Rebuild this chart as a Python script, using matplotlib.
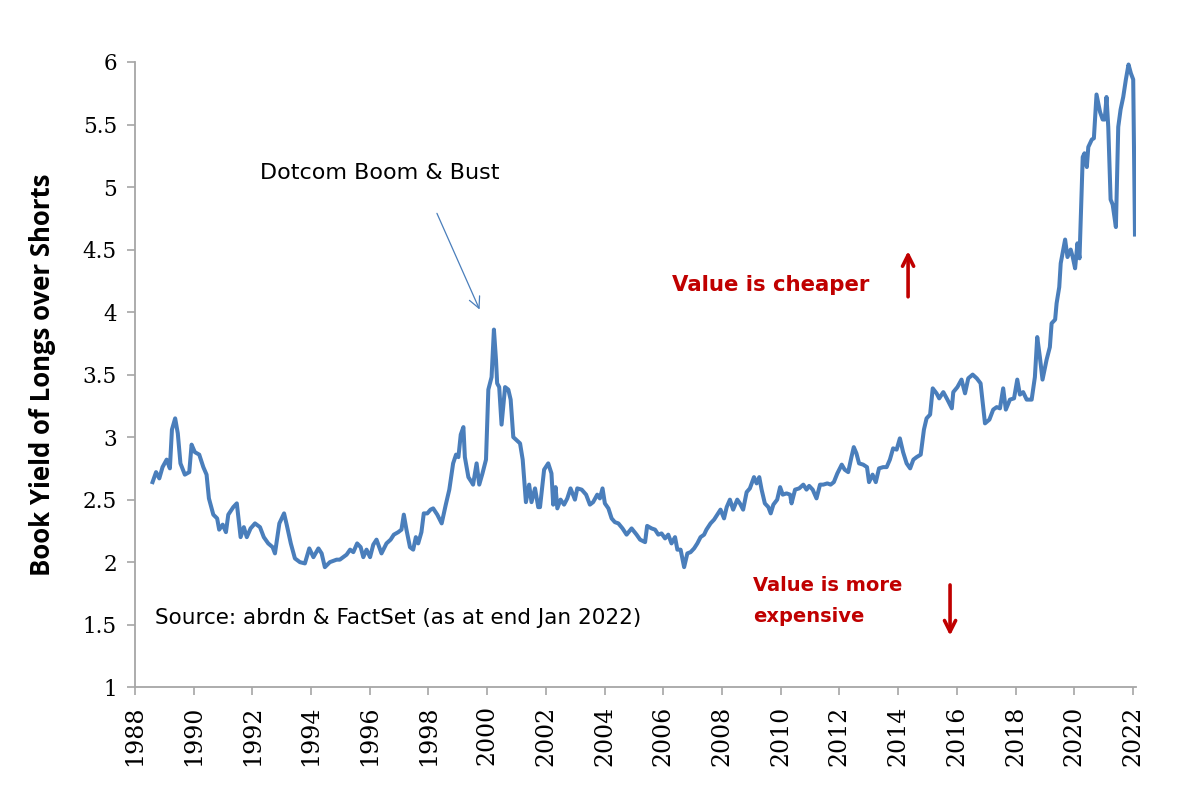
import numpy as np
import matplotlib
matplotlib.use("Agg")
import matplotlib.pyplot as plt

# decimal year and book yield ratio
years = [1988.60, 1988.72, 1988.83, 1988.94, 1989.08, 1989.19, 1989.26, 1989.37, 1989.46, 1989.55,
         1989.70, 1989.85, 1989.93, 1990.04, 1990.19, 1990.33, 1990.44, 1990.52, 1990.67, 1990.80,
         1990.87, 1990.99, 1991.10, 1991.18, 1991.35, 1991.47, 1991.60, 1991.71, 1991.81, 1991.94,
         1992.09, 1992.26, 1992.39, 1992.54, 1992.69, 1992.77, 1992.92, 1993.08, 1993.17, 1993.31,
         1993.45, 1993.62, 1993.79, 1993.94, 1994.08, 1994.25, 1994.36, 1994.47, 1994.64, 1994.87,
         1994.98, 1995.21, 1995.33, 1995.44, 1995.57, 1995.69, 1995.78, 1995.89, 1996.01, 1996.12,
         1996.23, 1996.40, 1996.57, 1996.71, 1996.82, 1996.97, 1997.08, 1997.16, 1997.25, 1997.37,
         1997.48, 1997.57, 1997.65, 1997.76, 1997.84, 1997.96, 1998.07, 1998.16, 1998.30, 1998.45,
         1998.59, 1998.71, 1998.84, 1998.94, 1999.02, 1999.10, 1999.19, 1999.24, 1999.36, 1999.47,
         1999.52, 1999.64, 1999.73, 1999.84, 1999.96, 2000.04, 2000.15, 2000.23, 2000.30, 2000.34,
         2000.41, 2000.49, 2000.61, 2000.72, 2000.80, 2000.89, 2000.98, 2001.12, 2001.21, 2001.32,
         2001.43, 2001.51, 2001.63, 2001.74, 2001.80, 2001.94, 2002.08, 2002.19, 2002.25, 2002.33,
         2002.39, 2002.50, 2002.62, 2002.73, 2002.84, 2002.99, 2003.07, 2003.22, 2003.37, 2003.50,
         2003.61, 2003.75, 2003.84, 2003.93, 2004.01, 2004.13, 2004.24, 2004.35, 2004.47, 2004.61,
         2004.75, 2004.92, 2005.09, 2005.21, 2005.38, 2005.45, 2005.60, 2005.72, 2005.83, 2005.94,
         2006.06, 2006.17, 2006.28, 2006.40, 2006.48, 2006.59, 2006.71, 2006.82, 2006.93, 2007.05,
         2007.16, 2007.27, 2007.39, 2007.47, 2007.61, 2007.73, 2007.84, 2007.95, 2008.07, 2008.16,
         2008.27, 2008.38, 2008.52, 2008.61, 2008.72, 2008.84, 2008.95, 2009.09, 2009.18, 2009.27,
         2009.35, 2009.46, 2009.58, 2009.66, 2009.75, 2009.88, 2009.98, 2010.07, 2010.20, 2010.32,
         2010.37, 2010.49, 2010.63, 2010.77, 2010.88, 2010.97, 2011.09, 2011.22, 2011.34, 2011.45,
         2011.59, 2011.70, 2011.81, 2011.93, 2012.08, 2012.18, 2012.30, 2012.41, 2012.49, 2012.58,
         2012.67, 2012.81, 2012.94, 2013.01, 2013.13, 2013.24, 2013.35, 2013.49, 2013.61, 2013.72,
         2013.83, 2013.95, 2014.06, 2014.17, 2014.29, 2014.41, 2014.52, 2014.63, 2014.77, 2014.88,
         2014.97, 2015.09, 2015.18, 2015.31, 2015.40, 2015.54, 2015.68, 2015.83, 2015.88, 2016.02,
         2016.16, 2016.28, 2016.39, 2016.54, 2016.68, 2016.81, 2016.96, 2017.11, 2017.24, 2017.36,
         2017.47, 2017.58, 2017.67, 2017.81, 2017.95, 2018.06, 2018.15, 2018.26, 2018.38, 2018.55,
         2018.66, 2018.74, 2018.83, 2018.92, 2019.06, 2019.17, 2019.23, 2019.35, 2019.40, 2019.49,
         2019.54, 2019.69, 2019.77, 2019.88, 2019.95, 2020.03, 2020.11, 2020.18, 2020.29, 2020.35,
         2020.43, 2020.48, 2020.60, 2020.67, 2020.76, 2020.88, 2020.97, 2021.04, 2021.10, 2021.16,
         2021.24, 2021.31, 2021.42, 2021.50, 2021.58, 2021.67, 2021.76, 2021.85, 2021.93, 2022.01,
         2022.07]
ratio = [2.64, 2.72, 2.67, 2.76, 2.82, 2.75, 3.06, 3.15, 3.03, 2.79,
         2.70, 2.72, 2.94, 2.88, 2.86, 2.76, 2.70, 2.51, 2.38, 2.35,
         2.26, 2.30, 2.24, 2.38, 2.44, 2.47, 2.20, 2.28, 2.20, 2.27,
         2.31, 2.28, 2.20, 2.15, 2.12, 2.07, 2.31, 2.39, 2.30, 2.15,
         2.03, 2.00, 1.99, 2.11, 2.04, 2.11, 2.07, 1.96, 2.00, 2.02,
         2.02, 2.06, 2.10, 2.08, 2.15, 2.12, 2.04, 2.10, 2.04, 2.14,
         2.18, 2.07, 2.15, 2.18, 2.22, 2.24, 2.26, 2.38, 2.26, 2.12,
         2.10, 2.20, 2.15, 2.24, 2.39, 2.39, 2.42, 2.43, 2.38, 2.31,
         2.46, 2.58, 2.79, 2.86, 2.84, 3.02, 3.08, 2.84, 2.68, 2.64,
         2.62, 2.79, 2.62, 2.71, 2.82, 3.38, 3.48, 3.86, 3.62, 3.43,
         3.40, 3.10, 3.40, 3.38, 3.30, 3.00, 2.98, 2.95, 2.82, 2.48,
         2.62, 2.48, 2.59, 2.44, 2.44, 2.74, 2.79, 2.71, 2.46, 2.60,
         2.43, 2.50, 2.46, 2.51, 2.59, 2.50, 2.59, 2.58, 2.54, 2.46,
         2.48, 2.54, 2.51, 2.59, 2.47, 2.43, 2.35, 2.32, 2.31, 2.27,
         2.22, 2.27, 2.22, 2.18, 2.16, 2.29, 2.27, 2.26, 2.22, 2.23,
         2.19, 2.22, 2.15, 2.20, 2.10, 2.10, 1.96, 2.07, 2.08, 2.11,
         2.15, 2.20, 2.22, 2.26, 2.31, 2.34, 2.38, 2.42, 2.35, 2.44,
         2.50, 2.42, 2.50, 2.47, 2.42, 2.56, 2.59, 2.68, 2.63, 2.68,
         2.58, 2.47, 2.44, 2.39, 2.46, 2.50, 2.60, 2.54, 2.55, 2.54,
         2.47, 2.58, 2.59, 2.62, 2.58, 2.61, 2.58, 2.51, 2.62, 2.62,
         2.63, 2.62, 2.64, 2.71, 2.78, 2.74, 2.72, 2.84, 2.92, 2.87,
         2.79, 2.78, 2.76, 2.64, 2.70, 2.64, 2.75, 2.76, 2.76, 2.82,
         2.91, 2.90, 2.99, 2.88, 2.79, 2.75, 2.82, 2.84, 2.86, 3.06,
         3.15, 3.18, 3.39, 3.35, 3.31, 3.36, 3.30, 3.23, 3.36, 3.40,
         3.46, 3.35, 3.47, 3.50, 3.47, 3.43, 3.11, 3.14, 3.22, 3.24,
         3.23, 3.39, 3.22, 3.30, 3.31, 3.46, 3.34, 3.36, 3.30, 3.30,
         3.48, 3.80, 3.64, 3.46, 3.62, 3.72, 3.91, 3.94, 4.07, 4.20,
         4.39, 4.58, 4.44, 4.50, 4.44, 4.35, 4.55, 4.43, 5.24, 5.27,
         5.16, 5.32, 5.38, 5.39, 5.74, 5.60, 5.54, 5.54, 5.72, 5.48,
         4.90, 4.86, 4.68, 5.48, 5.62, 5.72, 5.86, 5.98, 5.91, 5.86,
         4.62]

tick_years = list(range(1988, 2023, 2))
tick_vals = [1, 1.5, 2, 2.5, 3, 3.5, 4, 4.5, 5, 5.5, 6]

line_col = "#4A7EBB"
red = "#C00000"
grey = "#A6A6A6"

fig = plt.figure(figsize=(11.9, 8), dpi=100)
ax = fig.add_axes([0.1134, 0.141, 0.8411, 0.7815])

ax.plot(years, ratio, color=line_col, lw=2.9, solid_joinstyle="round")

ax.set_xlim(1988, 2022.1)
ax.set_ylim(1, 6)
ax.set_xticks(tick_years)
ax.set_xticklabels([str(y) for y in tick_years], rotation=90,
                   fontsize=17, family="DejaVu Serif")
ax.set_yticks(tick_vals)
ax.set_yticklabels([f"{v:g}" for v in tick_vals], fontsize=15.5, family="DejaVu Serif")

for s in ["top", "right"]:
    ax.spines[s].set_visible(False)
for s in ["left", "bottom"]:
    ax.spines[s].set_color(grey)
    ax.spines[s].set_linewidth(1.3)
ax.tick_params(direction="out", length=6, width=1.2, color=grey, pad=7)

ax.set_ylabel("Book Yield of Longs over Shorts", fontsize=18.5, fontweight="bold",
              family="Open Sans", labelpad=19)

# annotations
ax.text(1992.25, 5.11, "Dotcom Boom & Bust", fontsize=16, family="DejaVu Sans",
        va="center", ha="left")
ax.annotate("", xy=(1999.78, 4.0), xytext=(1998.25, 4.81),
            arrowprops=dict(arrowstyle="->", color=line_col, lw=0.9, mutation_scale=20))

ax.text(2006.3, 4.22, "Value is cheaper", fontsize=15.3, fontweight="bold",
        family="DejaVu Sans", color=red, va="center", ha="left")
ax.annotate("", xy=(2014.34, 4.51), xytext=(2014.34, 4.1),
            arrowprops=dict(arrowstyle="->", color=red, lw=2.6, mutation_scale=20))

ax.text(2009.05, 1.69, "Value is more\nexpensive", fontsize=14, fontweight="bold",
        family="DejaVu Sans", color=red, va="center", ha="left", linespacing=1.85)
ax.annotate("", xy=(2015.77, 1.39), xytext=(2015.77, 1.84),
            arrowprops=dict(arrowstyle="->", color=red, lw=2.6, mutation_scale=20))

ax.text(1988.7, 1.55, "Source: abrdn & FactSet (as at end Jan 2022)", fontsize=15.5,
        family="DejaVu Sans", va="center", ha="left")

fig.savefig("out.png", dpi=100)
